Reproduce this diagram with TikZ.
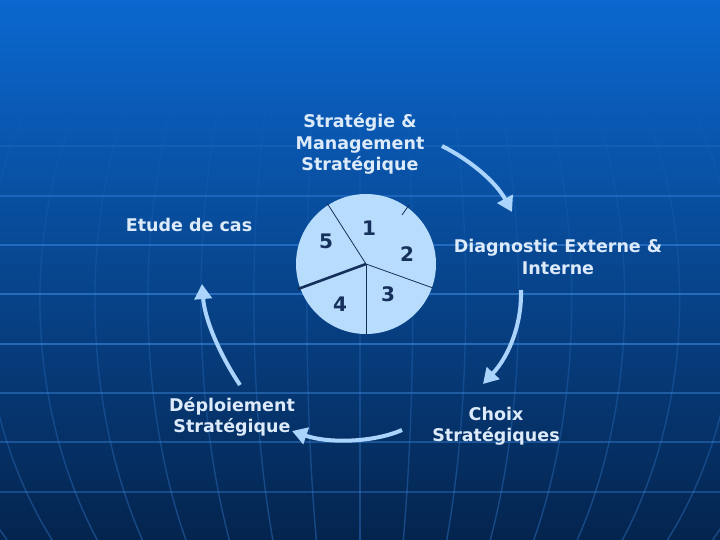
\documentclass[tikz,border=0pt]{standalone}
\usepackage{fontspec}
\setmainfont{DejaVu Sans}
\usetikzlibrary{arrows.meta,fadings}
\definecolor{bgtop}{HTML}{0B68D0}
\definecolor{bgmid}{HTML}{0C4EA6}
\definecolor{bgbot}{HTML}{04244E}
\definecolor{gridc}{HTML}{3A88E0}
\definecolor{txt}{HTML}{DCEAFA}
\definecolor{pief}{HTML}{B8DCFC}
\definecolor{pien}{HTML}{15305A}
\definecolor{arr}{HTML}{AAD4FC}
\tikzfading[name=fadeup, top color=transparent!100, middle color=transparent!40, bottom color=transparent!0]
\tikzset{
  lbl/.style={text=txt, font=\bfseries\fontsize{17.5}{21.5}\selectfont, align=center, inner sep=0pt},
  num/.style={text=pien, font=\bfseries\fontsize{20}{22}\selectfont, inner sep=0pt},
  flow/.style={draw=arr, line width=4pt, -{Triangle[length=15pt,width=17pt]}},
  gridh/.style={draw=gridc, line width=1.6pt},
  gridv/.style={draw=gridc, line width=1.4pt, opacity=0.38},
  sep/.style={draw=pien, line width=0.8pt}
}
\begin{document}
\begin{tikzpicture}[x=1pt,y=-1pt]
\useasboundingbox (0,0) rectangle (720,540);
% background
\shade[top color=bgtop, middle color=bgmid, bottom color=bgbot] (0,0) rectangle (720,540);
% horizontal grid lines
\foreach \yy/\op in {146/0.15,196/0.4,245/0.55,294/0.6,344/0.6,393/0.45,442/0.4,492/0.35}
  \draw[gridh, opacity=\op] (0,\yy) -- (720,\yy);
% meridians
\begin{scope}
\path[scope fading=fadeup, fit fading=true] (0,60) rectangle (720,540);
\foreach \D in {-430,-375,-320,-265,-212,-159,-106,-53,0,53,106,159,212,265,320,375,430}
  \draw[gridv] plot[domain=60:540, samples=30, smooth] ({360+\D*sqrt(1-((\x-300)/420)^2)}, \x);
\end{scope}
% pie
\coordinate (pc) at (366,264);
\fill[pief] (pc) circle (70);
\draw[sep] (pc) -- (327,203);
\draw[sep] (pc) -- (433,288);
\draw[sep] (pc) -- (366,334);
\draw[sep, line width=2.6pt] (pc) -- (298,289);
\draw[sep] (402,215) -- (409,205);
\node[num] (n1) at (369,228) {1};
\node[num] (n2) at (407,254) {2};
\node[num] (n3) at (388,294) {3};
\node[num] (n4) at (340,304) {4};
\node[num] (n5) at (326,241) {5};
% labels
\node[lbl] (sms) at (360,144) {Stratégie \&\\Management\\Stratégique};
\node[lbl] (etude) at (189,225) {Etude de cas};
\node[lbl] (diag) at (558,257) {Diagnostic Externe \&\\Interne};
\node[lbl] (depl) at (232,417) {Déploiement\\Stratégique};
\node[lbl] (choix) at (496,426) {Choix\\Stratégiques};
% arrow end points
\coordinate (a1s) at (442,146);
\coordinate (a1e) at (512,212);
\coordinate (a2s) at (521,290);
\coordinate (a2e) at (483,384);
\coordinate (a3s) at (402,430);
\coordinate (a3e) at (292,431);
\coordinate (a4s) at (240,385);
\coordinate (a4e) at (202,284);
\draw[flow] (a1s) .. controls (470,160) and (496,182) .. (a1e);
\draw[flow] (a2s) .. controls (522,322) and (510,355) .. (a2e);
\draw[flow] (a3s) .. controls (375,442) and (330,444) .. (a3e);
\draw[flow] (a4s) .. controls (222,358) and (205,322) .. (a4e);
\end{tikzpicture}
\end{document}
